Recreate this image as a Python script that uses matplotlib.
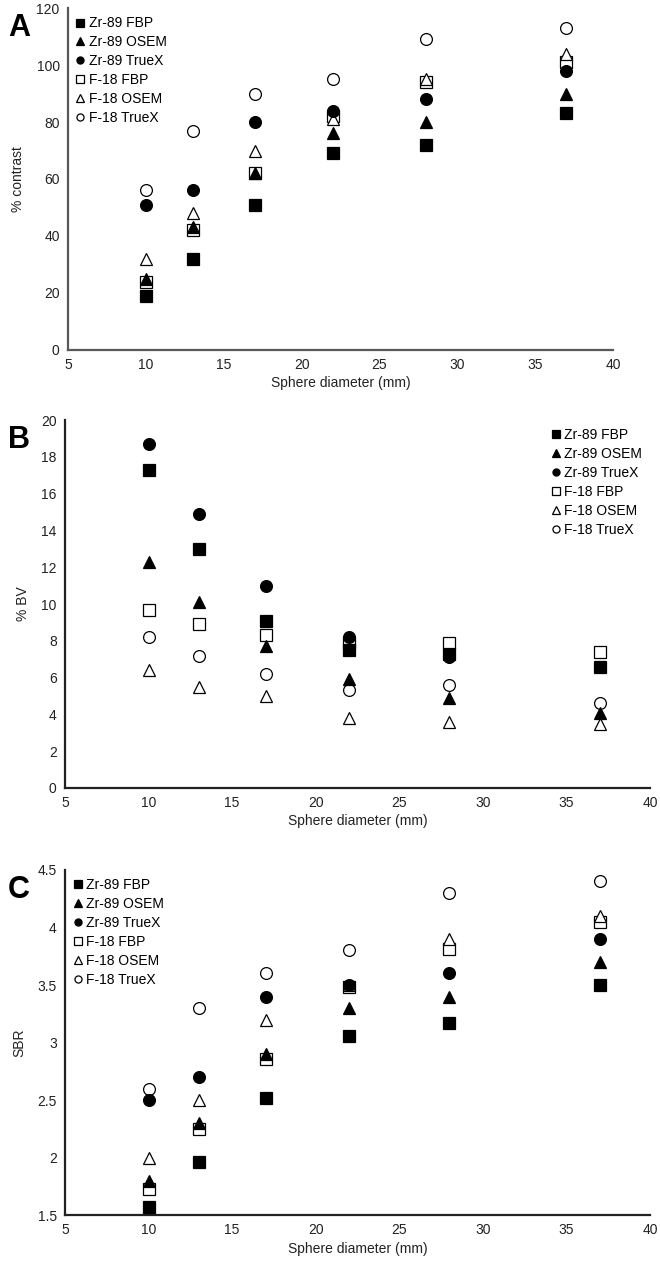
import matplotlib
matplotlib.use("Agg")
import matplotlib.pyplot as plt

plt.rcParams['font.family'] = ['Liberation Sans', 'DejaVu Sans']

diameters = [10, 13, 17, 22, 28, 37]
series_names = ["Zr-89 FBP", "Zr-89 OSEM", "Zr-89 TrueX", "F-18 FBP", "F-18 OSEM", "F-18 TrueX"]

# Panel A: % contrast
contrast_zr_fbp = [19, 32, 51, 69, 72, 83]
contrast_zr_osem = [25, 43, 62, 76, 80, 90]
contrast_zr_truex = [51, 56, 80, 84, 88, 98]
contrast_f_fbp = [24, 42, 62, 82, 94, 101]
contrast_f_osem = [32, 48, 70, 81, 95, 104]
contrast_f_truex = [56, 77, 90, 95, 109, 113]

# Panel B: % BV
bv_zr_fbp = [17.3, 13.0, 9.1, 7.5, 7.3, 6.6]
bv_zr_osem = [12.3, 10.1, 7.7, 5.9, 4.9, 4.1]
bv_zr_truex = [18.7, 14.9, 11.0, 8.2, 7.1, 6.6]
bv_f_fbp = [9.7, 8.9, 8.3, 7.9, 7.9, 7.4]
bv_f_osem = [6.4, 5.5, 5.0, 3.8, 3.6, 3.5]
bv_f_truex = [8.2, 7.2, 6.2, 5.3, 5.6, 4.6]

# Panel C: SBR
sbr_zr_fbp = [1.57, 1.96, 2.52, 3.06, 3.17, 3.5]
sbr_zr_osem = [1.8, 2.3, 2.9, 3.3, 3.4, 3.7]
sbr_zr_truex = [2.5, 2.7, 3.4, 3.5, 3.6, 3.9]
sbr_f_fbp = [1.73, 2.25, 2.86, 3.48, 3.81, 4.05]
sbr_f_osem = [2.0, 2.5, 3.2, 3.5, 3.9, 4.1]
sbr_f_truex = [2.6, 3.3, 3.6, 3.8, 4.3, 4.4]

styles = [
    dict(marker='s', facecolor='black', z=5),
    dict(marker='^', facecolor='black', z=6),
    dict(marker='o', facecolor='black', z=7),
    dict(marker='s', facecolor='white', z=2),
    dict(marker='^', facecolor='white', z=3),
    dict(marker='o', facecolor='white', z=4),
]

fig = plt.figure(figsize=(6.6, 12.79), dpi=100)

panels = [
    dict(rect=[0.103, 0.7264, 0.826, 0.2673], data=[contrast_zr_fbp, contrast_zr_osem, contrast_zr_truex, contrast_f_fbp, contrast_f_osem, contrast_f_truex],
         ylim=(0, 120), yticks=[0, 20, 40, 60, 80, 100, 120], ylabel="% contrast", letter="A", legloc='upper left', spine='#595959'),
    dict(rect=[0.0985, 0.3839, 0.8865, 0.2877], data=[bv_zr_fbp, bv_zr_osem, bv_zr_truex, bv_f_fbp, bv_f_osem, bv_f_truex],
         ylim=(0, 20), yticks=list(range(0, 21, 2)), ylabel="% BV", letter="B", legloc='upper right', spine='#222222'),
    dict(rect=[0.0985, 0.0500, 0.8865, 0.2698], data=[sbr_zr_fbp, sbr_zr_osem, sbr_zr_truex, sbr_f_fbp, sbr_f_osem, sbr_f_truex],
         ylim=(1.5, 4.5), yticks=[1.5, 2, 2.5, 3, 3.5, 4, 4.5], ylabel="SBR", letter="C", legloc='upper left', spine='#222222'),
]

for p in panels:
    ax = fig.add_axes(p['rect'])
    for name, vals, st in zip(series_names, p['data'], styles):
        ax.plot(diameters, vals, linestyle='none', marker=st['marker'], markersize=8.5,
                markerfacecolor=st['facecolor'], markeredgecolor='black', markeredgewidth=0.9,
                label=name, clip_on=False, zorder=st['z'])
    ax.set_xlim(5, 40)
    ax.set_xticks([5, 10, 15, 20, 25, 30, 35, 40])
    ax.set_ylim(*p['ylim'])
    ax.set_yticks(p['yticks'])
    ax.set_yticklabels([f"{t:g}" for t in p['yticks']])
    for s in ['top', 'right']:
        ax.spines[s].set_visible(False)
    for s in ['left', 'bottom']:
        ax.spines[s].set_color(p['spine'])
        ax.spines[s].set_linewidth(1.6)
    ax.tick_params(length=0, labelsize=10, colors='#222222', pad=6)
    ax.set_xlabel("Sphere diameter (mm)", fontsize=10, color='#222222', labelpad=3)
    ax.set_ylabel(p['ylabel'], fontsize=10, color='#222222', labelpad=8)
    ax.legend(loc=p['legloc'], frameon=False, fontsize=10, markerscale=0.6,
              handlelength=0.6, handletextpad=0.3, labelspacing=0.35,
              borderaxespad=0.2)
    fig.text(0.012, p['rect'][1] + p['rect'][3] - 0.004, p['letter'], fontsize=22,
             fontweight='bold', va='top', ha='left')

fig.savefig("out.png", dpi=100)
